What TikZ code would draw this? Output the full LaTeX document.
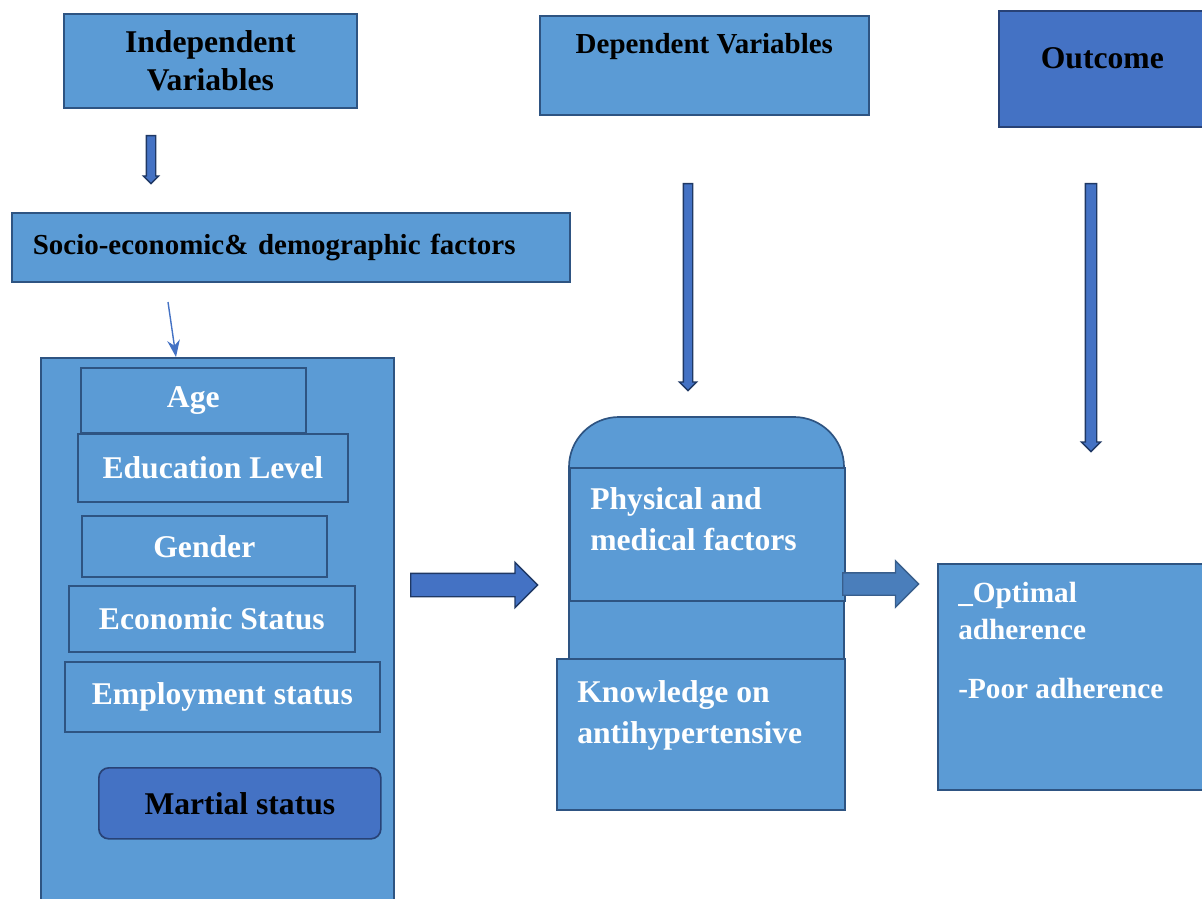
\documentclass[tikz,border=0pt]{standalone}
\usepackage{fontspec}
\setmainfont{Liberation Serif}
\usetikzlibrary{arrows.meta, positioning, shapes.arrows}
\definecolor{boxfill}{RGB}{91,155,213}
\definecolor{boxborder}{RGB}{46,84,130}
\definecolor{darkfill}{RGB}{68,114,196}
\definecolor{darkborder}{RGB}{40,66,118}
\definecolor{arrowborder}{RGB}{31,56,100}
\definecolor{softfill}{RGB}{74,126,187}
\definecolor{softborder}{RGB}{56,94,140}
\newcommand{\pxl}{0.025cm}
\tikzset{
  box/.style={rectangle, draw=boxborder, line width=1.2pt, fill=boxfill, anchor=north west, inner sep=0pt},
  darkbox/.style={box, draw=darkborder, fill=darkfill},
  capbox/.style={draw=boxborder, fill=boxfill, line width=1.2pt, rounded corners=1.25cm},
  wh/.style 2 args={minimum width=#1*\pxl, minimum height=#2*\pxl},
  bigtxt/.style={font=\fontsize{22.5}{27}\selectfont\bfseries},
  midtxt/.style={font=\fontsize{20.6}{26}\selectfont\bfseries},
  item/.style={box, bigtxt, text=white},
  celltxt/.style={font=\fontsize{22.5}{29}\selectfont\bfseries, text=white, align=left, inner sep=0pt, anchor=north west},
  blockarr/.style 2 args={single arrow, draw=arrowborder, fill=darkfill, line width=1pt, inner xsep=0pt, inner ysep=#1*\pxl, single arrow head extend=#2*\pxl, anchor=tail},
  thinarr/.style={-{Stealth[length=12pt,width=9pt]}, draw=darkfill, line width=1pt}
}

\begin{document}
\begin{tikzpicture}[x=\pxl, y=-\pxl]
\useasboundingbox (0,0) rectangle (1202,899);
% headers
\node[box, wh={293}{94}, bigtxt, align=center] (indep) at (63,13) {Independent\\Variables};
\node[box, wh={329}{99}] (dep) at (539,15) {};
\node[midtxt, anchor=base] (deptxt) at ([yshift=-39*\pxl]dep.north) {Dependent Variables};
\node[darkbox, wh={207}{116}] (out) at (998,10) {};
\node[bigtxt, anchor=base] (outtxt) at ([yshift=-59*\pxl]out.north) {Outcome};
\node[blockarr={4}{3}, rotate=-90, minimum height=48*\pxl] (dn1) at (151,135) {};
\node[blockarr={4}{4}, rotate=-90, minimum height=207*\pxl] (dn2) at (688,183) {};
\node[blockarr={5}{4}, rotate=-90, minimum height=268*\pxl] (dn3) at (1091,183) {};
\node[box, wh={558}{69}, midtxt, text width=516*\pxl, inner xsep=21*\pxl, align=left] (socio) at (11,212) {Socio-economic\& demographic factors};
\coordinate (thinfrom) at (168,302);
\coordinate (thinto) at (176,357);
\draw[thinarr] (thinfrom) -- (thinto);
% independent variables
\node[box, wh={353}{560}] (indvars) at (40,357) {};
\node[item, wh={225}{65}] (age) at (80,367) {Age};
\node[item, wh={270}{68}] (edu) at (77,433) {Education Level};
\node[item, wh={245}{61}] (gender) at (81,515) {Gender};
\node[item, wh={286}{66}] (econ) at (68,585) {Economic Status};
\node[item, wh={315}{70}] (employ) at (64,661) {Employment status};
\node[darkbox, bigtxt, rounded corners=0.25cm, wh={282}{71}] (martial) at (98,767) {Martial status};
\node[blockarr={11}{11}, minimum height=127*\pxl] (arrL) at (410,585) {};
% dependent variables
\draw[capbox] (569,660) -- (569,417) -- (844,417) -- (844,660);
\node[box, wh={275}{133}] (phys) at (569,467) {};
\node[celltxt, below right=0.5cm and 0.525cm of phys.north west] (phystxt) {Physical and\\medical factors};
\node[box, wh={288}{151}] (know) at (556,658) {};
\node[celltxt, below right=0.55cm and 0.525cm of know.north west] (knowtxt) {Knowledge on\\antihypertensive};
\node[blockarr={10.5}{12}, fill=softfill, draw=softborder, minimum height=76*\pxl] (arrR) at (842,584) {};
% outcome
\node[box, wh={268}{226}] (adh) at (937,563) {};
\node[celltxt, font=\fontsize{20.8}{26}\selectfont\bfseries, below right=0.475cm and 0.525cm of adh.north west] (adhtxt) {\_Optimal\\adherence\\[16pt]-Poor adherence};
\end{tikzpicture}
\end{document}
